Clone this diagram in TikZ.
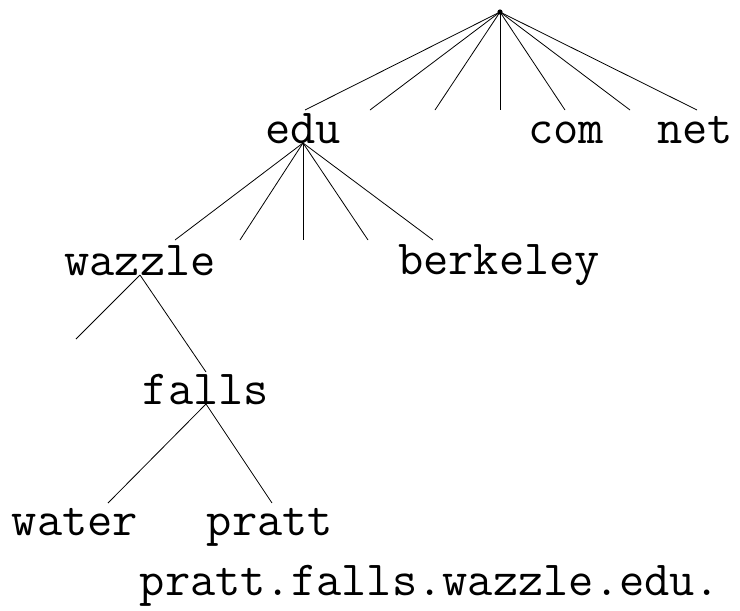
\documentclass[tikz,border=0pt]{standalone}

\tikzset{
  dnsname/.style={anchor=base, inner sep=0pt, font=\ttfamily\fontsize{49}{49}\selectfont},
}

\begin{document}
\begin{tikzpicture}[x=1pt, y=-1pt, line width=0.8pt]
      \useasboundingbox (0,0) rectangle (740,611);
      % root of the name space
      \coordinate (root) at (500,12);
      \fill (root) circle (2.6);
      % top level domains
      \node[dnsname] (edu) at (303,143) {edu};
      \node[dnsname] (com) at (566,143) {com};
      \node[dnsname] (net) at (695,143) {net};
      \coordinate (edu-in) at (305,110);
      \coordinate (com-in) at (565,110);
      \coordinate (net-in) at (697,110);
      \draw (root) -- (edu-in);
      \draw (root) -- (com-in);
      \draw (root) -- (net-in);
      \foreach \x [count=\i] in {370,435,500,630} {
        \coordinate (top-stub-\i) at (\x,110);
        \draw (root) -- (top-stub-\i);
      }
      % below edu
      \node[dnsname] (wazzle) at (140,275) {wazzle};
      \node[dnsname] (berkeley) at (499,274) {berkeley};
      \coordinate (wazzle-in) at (175,240);
      \coordinate (berkeley-in) at (433,240);
      \draw (edu.base) -- (wazzle-in);
      \draw (edu.base) -- (berkeley-in);
      \foreach \x [count=\i] in {240,303,368} {
        \coordinate (edu-stub-\i) at (\x,240);
        \draw (edu.base) -- (edu-stub-\i);
      }
      % below wazzle
      \node[dnsname] (falls) at (206,404) {falls};
      \coordinate (wazzle-stub) at (76,339);
      \coordinate (falls-in) at (206,372);
      \draw (wazzle.base) -- (wazzle-stub);
      \draw (wazzle.base) -- (falls-in);
      % below falls
      \node[dnsname] (water) at (75,535) {water};
      \node[dnsname] (pratt) at (270,535) {pratt};
      \coordinate (water-in) at (108,503);
      \coordinate (pratt-in) at (272,503);
      \draw (falls.base) -- (water-in);
      \draw (falls.base) -- (pratt-in);
      % full name
      \node[dnsname] (fullname) at (430,595) {pratt.falls.wazzle.edu.};
\end{tikzpicture}
\end{document}
